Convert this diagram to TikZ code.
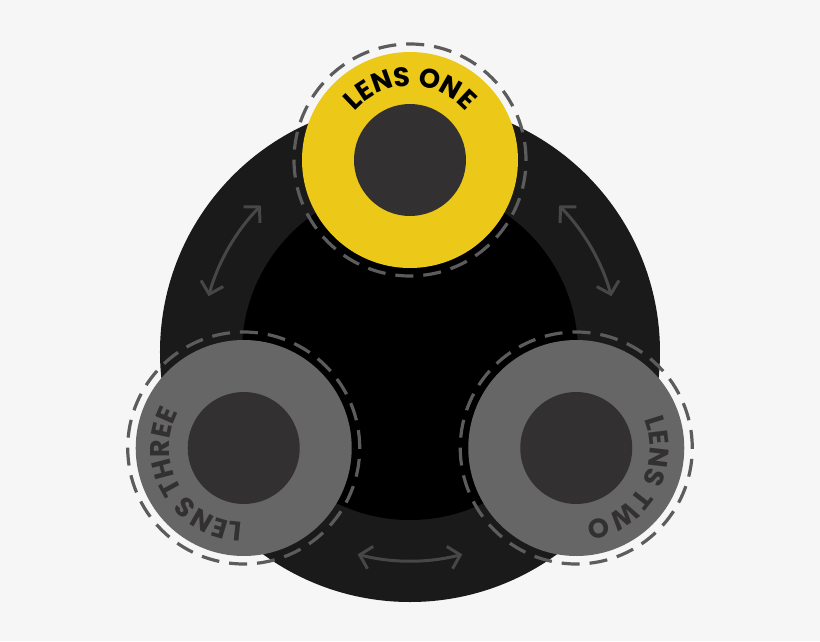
\documentclass[tikz,border=0pt]{standalone}
\usepackage{fontspec}
\newfontfamily\lensfont{Poppins}
\usetikzlibrary{decorations.text,arrows.meta}

\definecolor{hintergrund}{HTML}{F6F6F6}
\definecolor{gehaeuse}{HTML}{1A1A1A}
\definecolor{linsengelb}{HTML}{ECC819}
\definecolor{linsengrau}{HTML}{666666}
\definecolor{linsenkern}{HTML}{323031}
\definecolor{strich}{HTML}{5C5C5C}
\definecolor{pfeil}{HTML}{474747}

\def\lensdist{192}
\def\lensradius{108}
\def\coreradius{56}
\def\ringradius{116}
\def\textradius{74}
\def\arrowradius{209}
\def\lenses{
     90/{LENS ONE}/linsengelb/black,%A
    -30/{LENS TWO}/linsengrau/linsenkern,%B
    210/{LENS THREE}/linsengrau/linsenkern%C
  }

\begin{document}
\begin{tikzpicture}[x=1pt,y=1pt]
\fill[hintergrund] (-410,-289) rectangle (410,352);
\useasboundingbox (-410,-289) rectangle (410,352);

% Gehaeuse
\fill[gehaeuse] (0,0) circle (250);
\fill[black]    (0,0) circle (168);

% Pfeile zwischen den Linsen
\foreach \winkel in {30,150,270} {
  \draw[pfeil, line width=3,
        {Straight Barb[length=11pt,width=23pt]}-{Straight Barb[length=11pt,width=23pt]}]
    (\winkel+14.5:\arrowradius) arc (\winkel+14.5:\winkel-14.5:\arrowradius);
}

% Linsen
\foreach \winkel/\titel/\farbe/\schrift in \lenses {
  \coordinate (lens) at (\winkel:\lensdist);
  \fill[\farbe]      (lens) circle (\lensradius);
  \fill[linsenkern]  (lens) circle (\coreradius);
  \draw[strich, line width=3.2, dash pattern=on 18 off 10] (lens) circle (\ringradius);

  \path[
    postaction={decorate},
    decoration={
      text along path,
      text={|\lensfont\bfseries\fontsize{27}{27}\selectfont|\titel},
      text color=\schrift,
      text align={center},
    }
  ]
  (lens) ++(\winkel+85:\textradius) arc (\winkel+85:\winkel-85:\textradius);
}

\end{tikzpicture}
\end{document}
